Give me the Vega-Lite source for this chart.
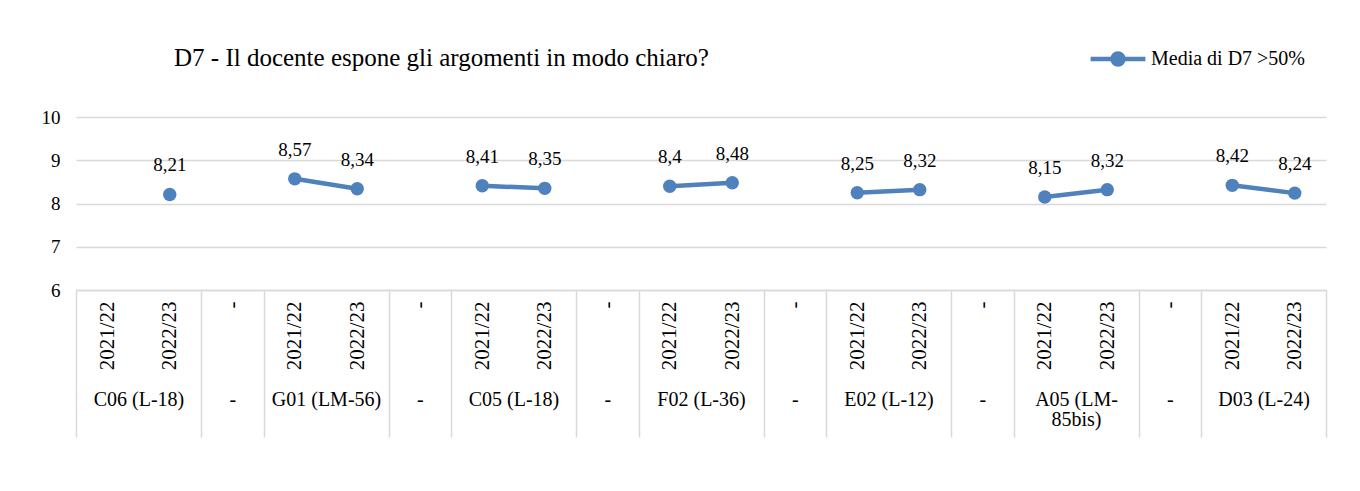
{
  "$schema": "https://vega.github.io/schema/vega-lite/v6.json",
  "width": 1250,
  "height": 173,
  "autosize": {"type": "none"},
  "padding": {"left": 76, "top": 117, "right": 34, "bottom": 201},
  "background": "white",
  "title": {
    "text": "D7 - Il docente espone gli argomenti in modo chiaro?",
    "anchor": "start",
    "frame": "group",
    "dx": 98,
    "offset": -62,
    "baseline": "alphabetic",
    "font": "Liberation Serif, Times New Roman, serif",
    "fontSize": 25,
    "fontWeight": "normal",
    "color": "#000000"
  },
  "data": {
    "values": [
      {"cat": "C06 (L-18)|2022/23", "corso": "C06 (L-18)", "anno": "2022/23", "media": 8.21, "serie": "Media di D7 >50%"},
      {"cat": "G01 (LM-56)|2021/22", "corso": "G01 (LM-56)", "anno": "2021/22", "media": 8.57, "serie": "Media di D7 >50%"},
      {"cat": "G01 (LM-56)|2022/23", "corso": "G01 (LM-56)", "anno": "2022/23", "media": 8.34, "serie": "Media di D7 >50%"},
      {"cat": "C05 (L-18)|2021/22", "corso": "C05 (L-18)", "anno": "2021/22", "media": 8.41, "serie": "Media di D7 >50%"},
      {"cat": "C05 (L-18)|2022/23", "corso": "C05 (L-18)", "anno": "2022/23", "media": 8.35, "serie": "Media di D7 >50%"},
      {"cat": "F02 (L-36)|2021/22", "corso": "F02 (L-36)", "anno": "2021/22", "media": 8.4, "serie": "Media di D7 >50%"},
      {"cat": "F02 (L-36)|2022/23", "corso": "F02 (L-36)", "anno": "2022/23", "media": 8.48, "serie": "Media di D7 >50%"},
      {"cat": "E02 (L-12)|2021/22", "corso": "E02 (L-12)", "anno": "2021/22", "media": 8.25, "serie": "Media di D7 >50%"},
      {"cat": "E02 (L-12)|2022/23", "corso": "E02 (L-12)", "anno": "2022/23", "media": 8.32, "serie": "Media di D7 >50%"},
      {"cat": "A05 (LM-85bis)|2021/22", "corso": "A05 (LM-85bis)", "anno": "2021/22", "media": 8.15, "serie": "Media di D7 >50%"},
      {"cat": "A05 (LM-85bis)|2022/23", "corso": "A05 (LM-85bis)", "anno": "2022/23", "media": 8.32, "serie": "Media di D7 >50%"},
      {"cat": "D03 (L-24)|2021/22", "corso": "D03 (L-24)", "anno": "2021/22", "media": 8.42, "serie": "Media di D7 >50%"},
      {"cat": "D03 (L-24)|2022/23", "corso": "D03 (L-24)", "anno": "2022/23", "media": 8.24, "serie": "Media di D7 >50%"}
    ]
  },
  "resolve": {"scale": {"x": "independent"}},
  "layer": [
    {
      "encoding": {
        "x": {
          "field": "cat",
          "type": "ordinal",
          "scale": {
            "type": "point",
            "padding": 0.5,
            "domain": [
              "C06 (L-18)|2021/22", "C06 (L-18)|2022/23", "-1",
              "G01 (LM-56)|2021/22", "G01 (LM-56)|2022/23", "-2",
              "C05 (L-18)|2021/22", "C05 (L-18)|2022/23", "-3",
              "F02 (L-36)|2021/22", "F02 (L-36)|2022/23", "-4",
              "E02 (L-12)|2021/22", "E02 (L-12)|2022/23", "-5",
              "A05 (LM-85bis)|2021/22", "A05 (LM-85bis)|2022/23", "-6",
              "D03 (L-24)|2021/22", "D03 (L-24)|2022/23"
            ]
          },
          "axis": {
            "orient": "bottom",
            "title": null,
            "domain": false,
            "ticks": false,
            "grid": false,
            "labelAngle": -90,
            "labelAlign": "right",
            "labelBaseline": "middle",
            "labelPadding": 11,
            "labelFontSize": 21,
            "labelOverlap": false,
            "labelExpr": "indexof(datum.value, '|') >= 0 ? split(datum.value, '|')[1] : '-'"
          }
        },
        "y": {
          "field": "media",
          "type": "quantitative",
          "scale": {"domain": [6, 10], "nice": false, "zero": false},
          "axis": {
            "title": null,
            "values": [6, 7, 8, 9, 10],
            "domain": false,
            "ticks": false,
            "grid": true,
            "gridColor": "#d9d9d9",
            "gridWidth": 1.5,
            "labelPadding": 16,
            "labelFontSize": 19
          }
        }
      },
      "layer": [
        {
          "mark": {"type": "line", "strokeWidth": 4.5},
          "encoding": {
            "detail": {"field": "corso"},
            "color": {
              "field": "serie",
              "type": "nominal",
              "scale": {"range": ["#4f81bd"]},
              "legend": {
                "title": null,
                "orient": "none",
                "legendX": 1012,
                "legendY": -88,
                "symbolType": "M-1,0L1,0M-0.2,0A0.2,0.2 0 1,1 0.2,0A0.2,0.2 0 1,1 -0.2,0Z",
                "symbolSize": 3000,
                "symbolStrokeWidth": 4.5,
                "symbolFillColor": "#4f81bd",
                "symbolStrokeColor": "#4f81bd",
                "labelFont": "Liberation Serif, Times New Roman, serif",
                "labelFontSize": 20,
                "labelColor": "#000000",
                "labelOffset": 3,
                "labelLimit": 300,
                "encode": {
                  "symbols": {
                    "update": {
                      "fill": {"value": "#4f81bd"},
                      "stroke": {"value": "#4f81bd"},
                      "strokeWidth": {"value": 4.5},
                      "opacity": {"value": 1}
                    }
                  }
                }
              }
            }
          }
        },
        {
          "mark": {"type": "point", "filled": true, "size": 180, "opacity": 1, "color": "#4f81bd"}
        },
        {
          "mark": {
            "type": "text",
            "baseline": "middle",
            "dy": -29,
            "font": "Liberation Serif, Times New Roman, serif",
            "fontSize": 19,
            "color": "#000000"
          },
          "encoding": {
            "text": {"field": "media", "type": "quantitative", "format": ".2~f"}
          }
        }
      ]
    },
    {
      "mark": {"type": "point", "opacity": 0},
      "encoding": {
        "x": {
          "datum": 0,
          "type": "quantitative",
          "scale": {"domain": [0, 20], "nice": false, "zero": false},
          "axis": {
            "orient": "bottom",
            "title": null,
            "grid": false,
            "domain": false,
            "ticks": false,
            "labelPadding": 99,
            "labelFontSize": 20,
            "labelAlign": "center",
            "labelBaseline": "top",
            "labelLineHeight": 20,
            "labelOverlap": false,
            "labelBound": false,
            "labelFlush": false,
            "labelLimit": 300,
            "values": [1, 2.5, 4, 5.5, 7, 8.5, 10, 11.5, 13, 14.5, 16, 17.5, 19],
            "labelExpr": "[['C06 (L-18)'], ['-'], ['G01 (LM-56)'], ['-'], ['C05 (L-18)'], ['-'], ['F02 (L-36)'], ['-'], ['E02 (L-12)'], ['-'], ['A05 (LM-', '85bis)'], ['-'], ['D03 (L-24)']][round((datum.value - 1) / 1.5)]"
          }
        }
      }
    },
    {
      "mark": {"type": "point", "opacity": 0},
      "encoding": {
        "x": {
          "datum": 0,
          "type": "quantitative",
          "scale": {"domain": [0, 20], "nice": false, "zero": false},
          "axis": {
            "orient": "bottom",
            "title": null,
            "grid": false,
            "domain": true,
            "domainColor": "#d9d9d9",
            "domainWidth": 1.5,
            "ticks": true,
            "tickSize": 147,
            "tickColor": "#d9d9d9",
            "tickWidth": 1.5,
            "labels": false,
            "values": [0, 2, 3, 5, 6, 8, 9, 11, 12, 14, 15, 17, 18, 20]
          }
        }
      }
    }
  ],
  "config": {
    "view": {"stroke": null},
    "font": "Liberation Serif, Times New Roman, serif",
    "locale": {"number": {"decimal": ",", "thousands": ".", "grouping": [3], "currency": ["", " €"]}},
    "axis": {"labelFont": "Liberation Serif, Times New Roman, serif", "labelColor": "#000000"}
  }
}
